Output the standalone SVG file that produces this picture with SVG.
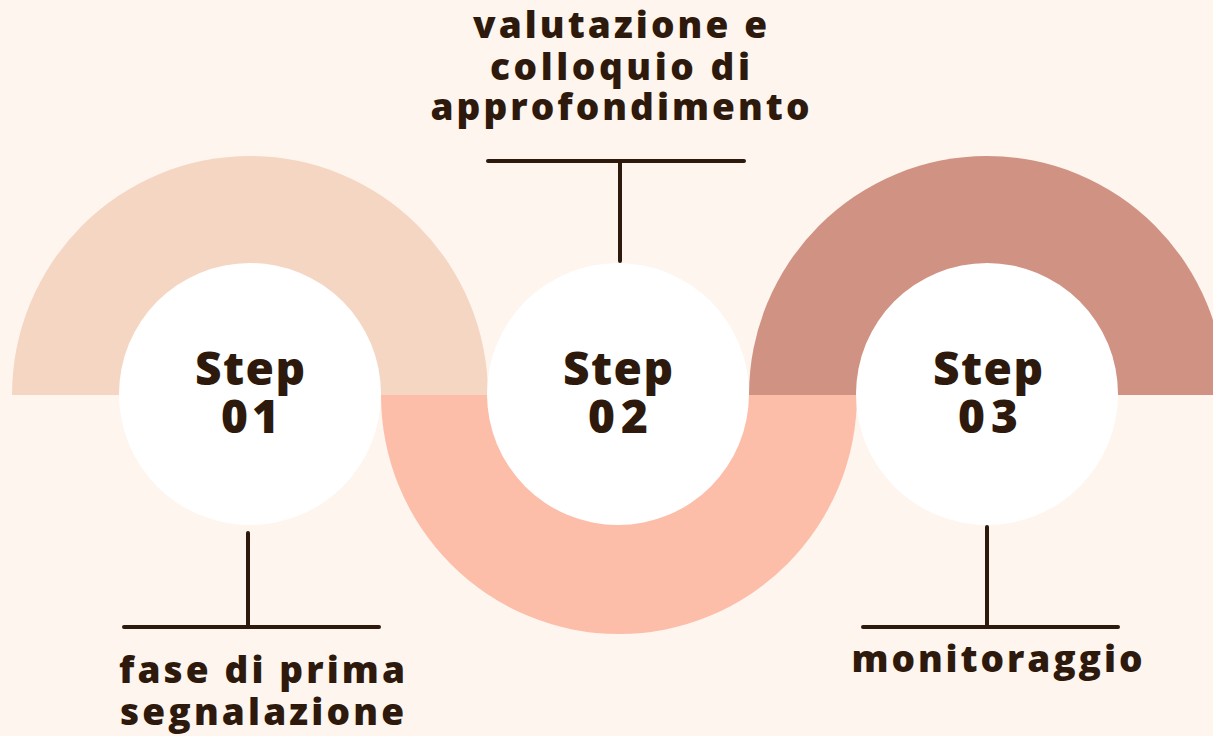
<svg xmlns="http://www.w3.org/2000/svg" width="1213" height="736" viewBox="0 0 1213 736">
<style>
.lbl{font-family:"Open Sans","Noto Sans","Liberation Sans",sans-serif;font-weight:800;font-size:37px;fill:#2E1A0C;text-anchor:middle}
.stp{font-family:"Open Sans","Noto Sans","Liberation Sans",sans-serif;font-weight:800;font-size:46px;fill:#2E1A0C;text-anchor:middle}
.ln{stroke:#2E1A0C;stroke-width:4;stroke-linecap:round;fill:none}
.dot{fill:#FFFFFF}
</style>
<rect width="1213" height="736" fill="#FDF5EE"/>
<g id="bands">
<path d="M12 395 A238 239 0 0 1 488 395 Z" fill="#F4D6C3"/>
<path d="M381 395 A238 239 0 0 0 857 395 Z" fill="#FCBDA9"/>
<path d="M749 395 A238 239 0 0 1 1225 395 Z" fill="#D09282"/>
</g>
<g id="connectors">
<line class="ln" x1="488" y1="161" x2="744" y2="161"/>
<line class="ln" x1="620" y1="163" x2="620" y2="261"/>
<line class="ln" x1="248" y1="533" x2="248" y2="627"/>
<line class="ln" x1="124" y1="627" x2="379" y2="627"/>
<line class="ln" x1="987" y1="527" x2="987" y2="627"/>
<line class="ln" x1="863" y1="627" x2="1118" y2="627"/>
</g>
<g id="step1">
<circle class="dot" cx="250" cy="394" r="131"/>
<text class="stp"><tspan x="250" y="385" textLength="110" lengthAdjust="spacing">Step</tspan><tspan x="250" y="433" textLength="58" lengthAdjust="spacing">01</tspan></text>
</g>
<g id="step2">
<circle class="dot" cx="618" cy="394" r="131"/>
<text class="stp"><tspan x="618" y="385" textLength="110" lengthAdjust="spacing">Step</tspan><tspan x="618" y="433" textLength="60" lengthAdjust="spacing">02</tspan></text>
</g>
<g id="step3">
<circle class="dot" cx="987" cy="394" r="131"/>
<text class="stp"><tspan x="988" y="385" textLength="110" lengthAdjust="spacing">Step</tspan><tspan x="988" y="433" textLength="60" lengthAdjust="spacing">03</tspan></text>
</g>
<g id="label1">
<text class="lbl"><tspan x="262" y="683" textLength="286" lengthAdjust="spacing">fase di prima</tspan><tspan x="262" y="725" textLength="284" lengthAdjust="spacing">segnalazione</tspan></text>
</g>
<g id="label2">
<text class="lbl"><tspan x="620" y="38" textLength="294" lengthAdjust="spacing">valutazione e</tspan><tspan x="620" y="80" textLength="260" lengthAdjust="spacing">colloquio di</tspan><tspan x="620" y="120" textLength="379" lengthAdjust="spacing">approfondimento</tspan></text>
</g>
<g id="label3">
<text class="lbl" x="997" y="672" textLength="291" lengthAdjust="spacing">monitoraggio</text>
</g>
</svg>
